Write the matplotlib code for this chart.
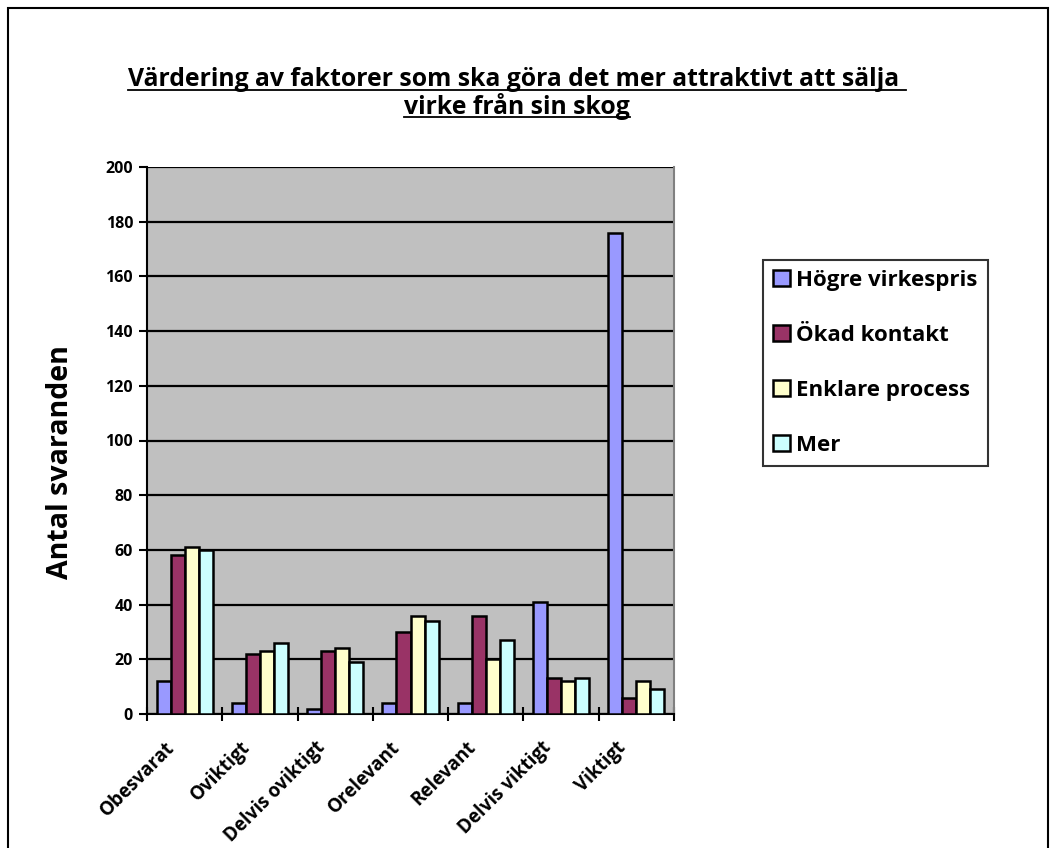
import matplotlib
matplotlib.use('Agg')
import matplotlib.pyplot as plt
import matplotlib.transforms as mtransforms
import numpy as np
from matplotlib.lines import Line2D
from matplotlib.patches import Rectangle

categories = ['Obesvarat', 'Oviktigt', 'Delvis oviktigt', 'Orelevant',
              'Relevant', 'Delvis viktigt', 'Viktigt']
series_names = ['Högre virkespris', 'Ökad kontakt', 'Enklare process', 'Mer']
hogre_virkespris = [12, 4, 2, 4, 4, 41, 176]
okad_kontakt = [58, 22, 23, 30, 36, 13, 6]
enklare_process = [61, 23, 24, 36, 20, 12, 12]
mer = [60, 26, 19, 34, 27, 13, 9]
colors = ['#9999FF', '#993366', '#FFFFCC', '#CCFFFF']

title_lines = ['Värdering av faktorer som ska göra det mer attraktivt att sälja ',
               'virke från sin skog']

plt.rcParams['font.family'] = ['Open Sans', 'DejaVu Sans']
plt.rcParams['font.weight'] = 'bold'

W, H = 1057, 848
fig = plt.figure(figsize=(W / 100, H / 100), dpi=100)
ax = fig.add_axes([147 / W, 1 - 714 / H, (674 - 147) / W, (714 - 167) / H])
ax.set_facecolor('#C0C0C0')

series = [hogre_virkespris, okad_kontakt, enklare_process, mer]
x = np.arange(len(categories))
bw = 0.186
for i, (vals, name, c) in enumerate(zip(series, series_names, colors)):
    ax.bar(x + (i - 1.5) * bw, vals, width=bw, color=c, edgecolor='black',
           linewidth=1.8, label=name, zorder=3)

ax.set_xlim(-0.5, len(categories) - 0.5)
ax.set_ylim(0, 200)
ax.set_yticks(np.arange(0, 201, 20))
ax.yaxis.grid(True, color='black', linewidth=1.6, zorder=1)
ax.set_axisbelow(True)
ax.tick_params(axis='y', direction='out', length=6, width=1.5, labelsize=11.5, pad=4)
for lab in ax.get_yticklabels():
    lab.set_fontweight('bold')

ax.set_xticks(np.arange(-0.5, len(categories), 1.0), minor=False)
ax.set_xticklabels([])
ax.set_xticks(x, minor=True)
ax.set_xticklabels(categories, minor=True, rotation=45, ha='right',
                   rotation_mode='anchor', fontsize=13.5, fontweight='bold')
ax.tick_params(axis='x', which='major', direction='inout', length=10, width=1.5)
ax.tick_params(axis='x', which='minor', length=0, pad=17)
shift = mtransforms.ScaledTranslation(-20 / 100, 0, fig.dpi_scale_trans)
for lab in ax.get_xticklabels(minor=True):
    lab.set_transform(lab.get_transform() + shift)

for s in ['left', 'bottom']:
    ax.spines[s].set_linewidth(1.5)
    ax.spines[s].set_color('black')
ax.spines['top'].set_visible(False)
ax.spines['right'].set_color('#808080')
ax.spines['right'].set_linewidth(1.5)

fig.text(60 / W, 1 - 462 / H, 'Antal svaranden', rotation=90, ha='center',
         va='center', fontsize=20.5, fontweight='bold')

leg = ax.legend(loc='upper left', bbox_to_anchor=(763 / W, 1 - 260 / H),
                bbox_transform=fig.transFigure, frameon=True, fancybox=False,
                edgecolor='black', fontsize=16, handlelength=0.75,
                handleheight=0.75, handletextpad=0.3, labelspacing=1.53,
                borderpad=0.45, borderaxespad=0)
leg.get_frame().set_linewidth(1.5)
for t in leg.get_texts():
    t.set_fontweight('bold')

# title with underline
title_y = [1 - 80 / H, 1 - 106 / H]
tobjs = [fig.text(517 / W, yy, line, ha='center', va='center', fontsize=17.8,
                  fontweight='bold') for line, yy in zip(title_lines, title_y)]
fig.canvas.draw()
r = fig.canvas.get_renderer()
for t in tobjs:
    bb = t.get_window_extent(r).transformed(fig.transFigure.inverted())
    yl = bb.y0 + 0.1 * (bb.y1 - bb.y0)
    fig.add_artist(Line2D([bb.x0, bb.x1], [yl, yl], color='black',
                          linewidth=1.3, transform=fig.transFigure))

fig.add_artist(Rectangle((8 / W, -0.01), (1048 - 8) / W, 1.01 - 8 / H,
                         transform=fig.transFigure, fill=False,
                         edgecolor='black', linewidth=1.5))

fig.savefig('out.png', dpi=100)
